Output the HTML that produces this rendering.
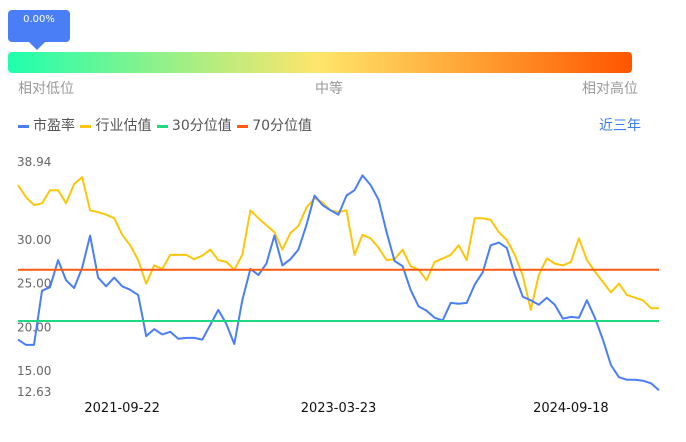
<!DOCTYPE html>
<html><head><meta charset="utf-8"><style>
body{margin:0;width:686px;height:442px;background:#fff;font-family:"DejaVu Sans","Noto Sans CJK SC",sans-serif;position:relative;overflow:hidden}
.abs{position:absolute}
</style></head><body>
<div class="abs" style="left:8px;top:10px;width:62px;height:32px;background:#4a7ef7;border-radius:4px;color:#fff;font-size:10px;text-align:center;line-height:20px">0.00%</div>
<div class="abs" style="left:29px;top:42px;width:0;height:0;border-left:8px solid transparent;border-right:8px solid transparent;border-top:8px solid #4a7ef7"></div>
<div class="abs" style="left:8px;top:52px;width:624px;height:21px;border-radius:4px;background:linear-gradient(90deg,#1effae 0%,#a9ee82 30%,#ffe56a 50%,#ffa032 75%,#ff5500 100%)"></div>
<div class="abs" style="left:18px;top:78px;font-size:14px;color:#999">相对低位</div>
<div class="abs" style="left:315px;top:78px;font-size:14px;color:#999">中等</div>
<div class="abs" style="left:582px;top:78px;font-size:14px;color:#999">相对高位</div>
<div class="abs" style="left:18px;top:115px;font-size:14px;color:#555;white-space:nowrap">
<span><span style="display:inline-block;width:11px;height:3px;background:#4a7ef7;vertical-align:middle;margin-right:4px"></span>市盈率</span>
<span style="margin-left:1px"><span style="display:inline-block;width:11px;height:3px;background:#fcc60b;vertical-align:middle;margin-right:4px"></span>行业估值</span>
<span style="margin-left:1px"><span style="display:inline-block;width:11px;height:3px;background:#1ed882;vertical-align:middle;margin-right:4px"></span>30分位值</span>
<span style="margin-left:1px"><span style="display:inline-block;width:11px;height:3px;background:#ff5a10;vertical-align:middle;margin-right:4px"></span>70分位值</span>
</div>
<div class="abs" style="left:599px;top:115px;font-size:14px;color:#3b7cf5">近三年</div>
<svg class="abs" style="left:0;top:0" width="686" height="442">
<g id="g"></g>
</svg>
<script>
const yTicks=[38.94,30,25,20,15,12.63];
const yTickLabels=["38.94","30.00","25.00","20.00","15.00","12.63"];
const xTickIdx=[13,40,69];
const xTickLabels=["2021-09-22","2023-03-23","2024-09-18"];
const peValues=[18.6,18.0,18.0,24.2,24.6,27.7,25.4,24.5,26.8,30.5,25.7,24.7,25.7,24.7,24.3,23.7,19.0,19.8,19.2,19.5,18.7,18.8,18.8,18.6,20.3,22.0,20.4,18.1,23.1,26.7,26.0,27.3,30.5,27.1,27.8,28.9,31.7,35.1,34.0,33.4,32.9,35.1,35.7,37.4,36.3,34.6,30.9,27.6,27.0,24.3,22.4,21.9,21.1,20.8,22.8,22.7,22.8,24.9,26.3,29.4,29.7,29.1,26.0,23.5,23.1,22.6,23.4,22.6,21.0,21.2,21.1,23.1,21.1,18.6,15.7,14.3,14.0,14.0,13.9,13.6,12.8];
const industryValues=[36.3,34.9,34.0,34.2,35.7,35.7,34.2,36.4,37.2,33.4,33.2,32.9,32.5,30.6,29.4,27.7,25.0,27.1,26.7,28.3,28.3,28.3,27.8,28.2,28.9,27.7,27.5,26.6,28.3,33.4,32.5,31.7,30.9,28.9,30.8,31.6,33.7,34.8,34.3,33.4,33.2,33.4,28.3,30.6,30.2,29.1,27.7,27.8,28.9,27.0,26.6,25.4,27.5,27.9,28.3,29.4,27.7,32.5,32.5,32.3,30.9,30.0,28.3,25.9,22.0,26.0,27.9,27.3,27.1,27.5,30.2,27.7,26.4,25.2,24.0,25.0,23.7,23.4,23.1,22.2,22.2];
const p30=20.73, p70=26.6;
const X0=18,X1=659,Y0=161.9,Y1=391.8,VMAX=38.94,VMIN=12.63;
const n=peValues.length;
const xs=i=>X0+(X1-X0)*i/(n-1);
const ys=v=>Y0+(VMAX-v)/(VMAX-VMIN)*(Y1-Y0);
const g=document.getElementById('g');const NS='http://www.w3.org/2000/svg';
function mk(t,a){const e=document.createElementNS(NS,t);for(const k in a)e.setAttribute(k,a[k]);g.appendChild(e);return e;}
yTicks.forEach((v,i)=>{const t=mk('text',{x:17,y:ys(v)+4,'font-size':12,fill:'#666','font-family':'DejaVu Sans'});t.textContent=yTickLabels[i];

});
xTickIdx.forEach((ix,i)=>{const t=mk('text',{x:xs(ix),y:412,'font-size':13,fill:'#111','text-anchor':'middle','font-family':'DejaVu Sans'});t.textContent=xTickLabels[i];

});
function line(vals,color,name){const d=vals.map((v,i)=>(i?'L':'M')+xs(i).toFixed(1)+','+ys(v).toFixed(1)).join('');
const p=mk('path',{d:d,fill:'none',stroke:color,'stroke-width':2,'stroke-linejoin':'round'});

}
line(industryValues,'#fcc60b','industry-line');
line(peValues,'#4a7ef7','pe-line');
const l70=mk('line',{x1:X0,x2:X1,y1:ys(p70),y2:ys(p70),stroke:'#ff5a10','stroke-width':2});


const l30=mk('line',{x1:X0,x2:X1,y1:ys(p30),y2:ys(p30),stroke:'#1ed882','stroke-width':2});


</script>
</body></html>
